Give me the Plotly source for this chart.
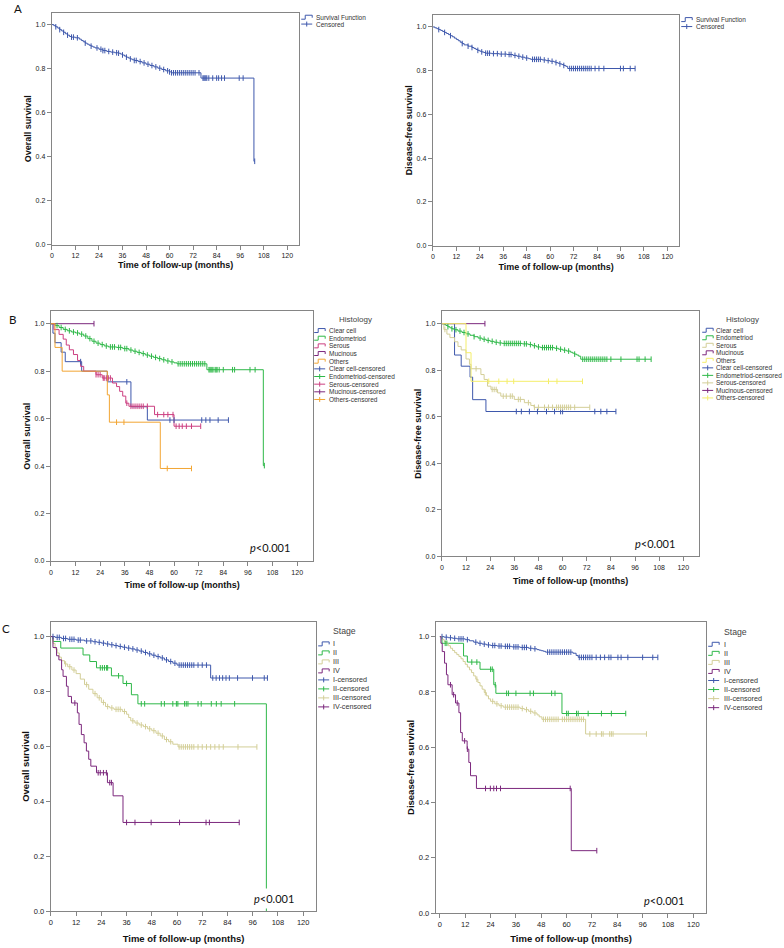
import numpy as np
import plotly.graph_objects as go

# ---------------- data ----------------
TIME_TICKS = [0, 12, 24, 36, 48, 60, 72, 84, 96, 108, 120]
SURV_TICKS = [0.0, 0.2, 0.4, 0.6, 0.8, 1.0]
SURV_TICK_TEXT = ["0.0", "0.2", "0.4", "0.6", "0.8", "1.0"]
P_TEXT = "<i>p</i>&lt;0.001"

# Panel A: whole cohort, overall survival
os_all_t = [0, 1, 2, 3, 4, 5, 6, 7, 8, 9, 10, 12, 14, 15, 16, 17, 18, 19, 20, 21, 22, 24, 26, 28, 30, 32, 34, 35,
            36, 37, 38, 39, 40, 41, 42, 44, 46, 48, 50, 52, 54, 56, 58, 60, 61, 76, 103]
os_all_s = [1.0, 0.995, 0.99, 0.984, 0.977, 0.971, 0.965, 0.958, 0.952, 0.946, 0.943, 0.94, 0.934, 0.928, 0.922,
            0.916, 0.911, 0.906, 0.902, 0.898, 0.894, 0.888, 0.882, 0.878, 0.875, 0.872, 0.87, 0.866, 0.862, 0.857,
            0.852, 0.848, 0.844, 0.84, 0.837, 0.832, 0.826, 0.82, 0.814, 0.808, 0.802, 0.796, 0.79, 0.785, 0.781,
            0.757, 0.379]
os_all_c = [2, 4, 6, 8, 10, 11, 13, 17, 20, 23, 25, 26, 27, 29, 31, 33, 34, 36, 38, 40, 42, 43, 45, 47, 49, 51, 53,
            55, 57, 59, 60, 61, 62, 63, 64, 65, 66, 67, 68, 69, 70, 71, 72, 73, 75, 77, 77.5, 78, 78.5, 79, 80, 82,
            84, 85, 86.5, 88, 95.5, 97.5, 103.4]

# Panel A: whole cohort, disease-free survival
dfs_all_t = [0, 1, 2, 3, 4, 5, 6, 7, 8, 9, 10, 11, 12, 13, 14, 15, 16, 18, 20, 21, 22, 23, 24, 25, 26, 27, 30, 34,
             38, 41, 43, 45, 47, 49, 50, 56, 58, 60, 62, 63, 64, 65, 66, 67, 68, 69]
dfs_all_s = [1.0, 0.996, 0.992, 0.988, 0.984, 0.979, 0.975, 0.97, 0.965, 0.96, 0.955, 0.949, 0.943, 0.937, 0.93,
             0.924, 0.918, 0.912, 0.906, 0.902, 0.897, 0.893, 0.889, 0.886, 0.883, 0.88, 0.878, 0.876, 0.874, 0.87,
             0.866, 0.862, 0.858, 0.855, 0.852, 0.849, 0.846, 0.843, 0.84, 0.837, 0.834, 0.831, 0.828, 0.824, 0.82,
             0.81]
dfs_all_c = [3, 6, 9, 15, 18, 20, 23, 25, 27, 28, 29, 31, 33, 35, 37, 39, 40, 42, 44, 46, 48, 51, 52, 53, 54, 55, 57,
             59, 61, 63, 65, 67, 70, 71, 72, 73, 74, 75, 76, 77, 78, 79, 80, 81, 83, 85, 87.5, 96, 97.5, 101, 103.5]

# Panel B: histology, overall survival
os_clear_t = [0, 1, 2, 5, 7, 15, 27.5, 39, 47]
os_clear_s = [1.0, 0.96, 0.92, 0.88, 0.84, 0.80, 0.755, 0.65, 0.594]
os_clear_c = [14.5, 37, 58, 60, 73.5, 75.5, 77.5, 81.5, 86.5]

os_endo_t = [0, 2, 4, 6, 8, 10, 12, 14, 16, 18, 20, 22, 24, 26, 28, 32, 35, 38, 40, 42, 44, 46, 48, 50, 52, 54, 56,
             58, 60, 61.5, 76, 103.5]
os_endo_s = [1.0, 0.992, 0.984, 0.976, 0.97, 0.965, 0.961, 0.956, 0.948, 0.937, 0.926, 0.918, 0.912, 0.906, 0.902,
             0.9, 0.895, 0.889, 0.884, 0.879, 0.874, 0.868, 0.863, 0.858, 0.853, 0.848, 0.843, 0.839, 0.835, 0.831,
             0.806, 0.402]
os_endo_c = [3, 5, 7, 9, 11, 13, 15, 17, 19, 21, 23, 25, 27, 29, 30, 31, 33, 34, 36, 37, 39, 41, 43, 45, 47, 49, 51,
             53, 55, 57, 59, 62, 63, 64, 65, 66, 67, 68, 69, 70, 71, 72, 73, 74, 75, 77, 77.5, 78, 78.5, 79, 80, 80.5,
             81, 82, 84, 88.5, 89.5, 97, 99.5, 104]

os_serous_t = [0, 1.5, 4, 6, 7.5, 9, 11, 13, 14.5, 16, 22, 25, 30, 32, 33.5, 35, 36.5, 38, 50.5, 60]
os_serous_s = [1.0, 0.975, 0.955, 0.935, 0.91, 0.89, 0.87, 0.845, 0.82, 0.80, 0.785, 0.771, 0.75, 0.735, 0.715,
               0.695, 0.665, 0.652, 0.617, 0.568]
os_serous_c = [22, 23, 24, 25.5, 26, 27, 28, 29, 37, 39, 40, 41, 42, 43, 44, 45, 47, 52, 55, 57, 59.5, 61, 62.5, 64,
               66, 68.5, 73]

os_muc_t = [0]
os_muc_s = [1.0]
os_muc_c = [21]

os_other_t = [0, 2, 5.5, 27.5, 28.5, 53.3]
os_other_s = [1.0, 0.90, 0.80, 0.70, 0.585, 0.39]
os_other_c = [32, 35.6, 56.7, 68.5]

# Panel B: histology, disease-free survival
dfs_clear_t = [0, 6.3, 9.6, 14, 15.3, 21.9]
dfs_clear_s = [1.0, 0.865, 0.817, 0.77, 0.673, 0.622]
dfs_clear_c = [37, 39.5, 43.5, 47.5, 52, 56, 59, 60, 76, 79, 82, 86.5]

dfs_endo_t = [0, 1, 2, 3, 4, 5, 6, 8, 10, 12, 14, 16, 18, 20, 22, 24, 26, 28, 30, 40, 43, 45, 47, 49, 56, 58, 60,
              62, 64, 65, 66, 67, 68, 69]
dfs_endo_s = [1.0, 0.996, 0.992, 0.987, 0.982, 0.978, 0.974, 0.968, 0.962, 0.956, 0.95, 0.944, 0.938, 0.933, 0.928,
              0.924, 0.92, 0.917, 0.915, 0.913, 0.91, 0.905, 0.9, 0.897, 0.894, 0.89, 0.886, 0.882, 0.877, 0.873,
              0.869, 0.865, 0.86, 0.847]
dfs_endo_c = [3, 5, 7, 9, 11, 13, 16, 19, 21, 23, 25, 27, 29, 31, 32, 33, 34, 35, 36, 37, 38, 39, 41, 42, 44, 46, 48,
              50, 51, 52, 53, 54, 55, 57, 59, 61, 63, 66, 70, 71, 72, 73, 74, 75, 76, 77, 78, 79, 80, 81, 82, 84, 89,
              97, 98, 101, 104]

dfs_serous_t = [0, 1, 2.5, 4, 6.3, 8, 9.6, 12, 13.7, 14.5, 19.4, 21, 22.7, 24.4, 27.7, 29.3, 36, 41, 44.2, 45.8]
dfs_serous_s = [1.0, 0.975, 0.955, 0.94, 0.922, 0.902, 0.887, 0.848, 0.825, 0.806, 0.781, 0.76, 0.731, 0.717, 0.702,
                0.688, 0.674, 0.66, 0.648, 0.64]
dfs_serous_c = [1.5, 17, 25, 26, 27, 30.5, 32, 34, 35, 38, 39, 43, 46, 48, 51, 53, 55, 57, 58, 59, 60, 61, 62, 63,
                64, 66, 73.5]

dfs_muc_t = [0]
dfs_muc_s = [1.0]
dfs_muc_c = [21.4]

dfs_other_t = [0, 12, 14.5]
dfs_other_s = [1.0, 0.875, 0.752]
dfs_other_c = [23.3, 28.3, 32.4, 35.7, 53, 57.2, 69.9]

# Panel C: stage, overall survival
os_s1_t = [0, 2, 5, 8, 12, 16, 20, 22, 24, 26, 28, 30, 32, 34, 36, 38, 40, 42, 44, 46, 48, 50, 52, 54, 56, 58, 60,
           76]
os_s1_s = [1.0, 0.997, 0.993, 0.99, 0.987, 0.984, 0.981, 0.979, 0.976, 0.973, 0.97, 0.967, 0.964, 0.961, 0.958,
           0.955, 0.951, 0.947, 0.942, 0.937, 0.932, 0.927, 0.922, 0.915, 0.909, 0.903, 0.896, 0.849]
os_s1_c = [1, 3, 4, 6, 7, 9, 10, 11, 13, 14, 17, 19, 21, 23, 25, 27, 29, 31, 33, 35, 37, 39, 41, 43, 45, 47, 49, 51,
           53, 55, 57, 59, 61, 62, 63, 64, 65, 66, 67, 68, 70, 72, 74, 77, 78.6, 80.2, 81.7, 83.3, 84.9, 88.8, 95.9,
           101.5, 103]

os_s2_t = [0, 1, 4.7, 15.3, 18.5, 21.7, 28.8, 34.3, 38.3, 41.4, 102.5]
os_s2_s = [1.0, 0.982, 0.958, 0.933, 0.909, 0.886, 0.857, 0.829, 0.788, 0.755, 0.0]
os_s2_c = [23.5, 24.5, 25.5, 26.5, 27, 32.2, 36, 43, 44.6, 52.5, 54, 58, 59.7, 60.4, 63.6, 64.4, 65.2, 70, 71.5,
           76.3, 78.7, 81, 87.4]

os_s3_t = [0, 1, 2, 3, 4, 5, 6.5, 8, 10, 12, 14, 16, 18, 20, 22, 24, 26, 28, 30, 34, 36, 37, 38, 40, 42, 44, 46, 48,
           50, 52, 54, 56, 58, 60.5]
os_s3_s = [1.0, 0.975, 0.955, 0.94, 0.925, 0.912, 0.9, 0.89, 0.878, 0.865, 0.845, 0.825, 0.808, 0.792, 0.777, 0.76,
           0.745, 0.74, 0.735, 0.727, 0.717, 0.705, 0.693, 0.685, 0.678, 0.672, 0.664, 0.657, 0.648, 0.638, 0.625,
           0.617, 0.608, 0.598]
os_s3_c = [7, 9, 11, 17, 21, 23, 25, 27, 29, 31, 32, 33, 35, 39, 41, 43, 45, 47, 49, 51, 53, 55, 57, 61, 62, 63, 64,
           65, 66, 67, 68, 70, 72, 74, 76, 78, 80, 82, 89, 98]

os_s4_t = [0, 1, 2.7, 3.8, 5.1, 5.8, 7.4, 8.2, 9.8, 12.6, 13.4, 14.5, 15.8, 16.9, 18, 19, 21.7, 26.9, 29.6, 34.3]
os_s4_s = [1.0, 0.96, 0.93, 0.915, 0.879, 0.855, 0.819, 0.782, 0.758, 0.722, 0.68, 0.643, 0.613, 0.583, 0.553,
           0.528, 0.504, 0.468, 0.42, 0.323]
os_s4_c = [11.4, 22.5, 23.5, 25, 26.4, 28, 28.8, 36, 40, 47.7, 61.2, 73.8, 75.4, 89.6]

# Panel C: stage, disease-free survival
dfs_s1_t = [0, 2, 4, 6, 8, 12, 14, 16, 18, 20, 22, 24, 27, 30, 34, 38, 42, 44, 46, 47, 48, 49, 50, 63, 64.5, 65.5]
dfs_s1_s = [1.0, 0.998, 0.996, 0.994, 0.992, 0.989, 0.985, 0.98, 0.976, 0.973, 0.97, 0.968, 0.966, 0.965, 0.963,
            0.961, 0.958, 0.956, 0.953, 0.951, 0.949, 0.947, 0.944, 0.94, 0.932, 0.925]
dfs_s1_c = [1, 3, 5, 7, 9, 10, 11, 13, 17, 19, 21, 23, 25, 26, 28, 29, 31, 32, 33, 35, 36, 37, 39, 40, 41, 43, 45,
            51, 52, 53, 54, 55, 56, 57, 58, 59, 60, 61, 62, 66, 67, 68, 69, 70, 71, 72, 74, 76, 78, 80, 81, 84.3,
            85.8, 89, 96, 100.8, 103.2]

dfs_s2_t = [0, 1, 11.2, 13, 19, 25.5, 26.5, 57.8]
dfs_s2_s = [1.0, 0.976, 0.93, 0.908, 0.882, 0.826, 0.795, 0.722]
dfs_s2_c = [2.5, 3.3, 15.1, 17.5, 24, 24.8, 26.2, 31.6, 32.5, 36, 42.7, 44.3, 52.9, 54.5, 60, 60.8, 64.7, 65.5,
            70.2, 76.5, 81.2, 88]

dfs_s3_t = [0, 1, 2, 3, 4, 5, 6, 7, 8, 9, 10, 11, 12, 13, 14, 15, 16, 17, 18, 19, 20, 21, 22, 23, 24, 26, 28, 30, 38,
            40, 42, 44, 46, 47, 48.3, 69]
dfs_s3_s = [1.0, 0.99, 0.982, 0.975, 0.967, 0.958, 0.95, 0.942, 0.935, 0.928, 0.92, 0.91, 0.9, 0.89, 0.88, 0.87,
            0.858, 0.846, 0.834, 0.822, 0.81, 0.798, 0.786, 0.775, 0.766, 0.757, 0.75, 0.745, 0.74, 0.736, 0.73,
            0.724, 0.717, 0.71, 0.701, 0.648]
dfs_s3_c = [17.5, 21.5, 25, 27, 29, 31, 32, 33, 34, 35, 36, 37, 39, 41, 43, 45, 49, 50, 51, 52, 53, 54, 55, 56, 58,
            59, 60, 61, 62, 63, 64, 65, 66, 67, 68, 71, 74, 76.5, 77.3, 80.4, 81.2, 82, 97.8]

dfs_s4_t = [0, 0.5, 1.1, 2.2, 3.1, 3.8, 5.8, 7.4, 9, 9.8, 10.6, 12.9, 13.7, 14.5, 17.3, 62.2]
dfs_s4_s = [1.0, 0.976, 0.946, 0.904, 0.862, 0.826, 0.79, 0.76, 0.725, 0.653, 0.623, 0.593, 0.545, 0.497, 0.451,
            0.226]
dfs_s4_c = [5, 6.5, 8.2, 11.7, 13, 21.6, 23.9, 25.5, 26.8, 28.7, 61.7, 74.3]

HIST_NAMES = ["Clear cell", "Endometriod", "Serous", "Mucinous", "Others"]
STAGE_NAMES = ["I", "II", "III", "IV"]

# ---------------- styling ----------------
W, H = 784, 948
BLUE = "#3E58AC"
GREEN = "#2EB848"
BEIGE = "#D3CE97"
PURPLE = "#7C287D"
YELLOW = "#F4EE6A"
PINK = "#CC3F80"
ORANGE = "#F2A533"
FRAME = "#858585"
TXT = "#222222"
AX_FONT = "Liberation Sans, Arial, sans-serif"
CAL_FONT = "Lato, Carlito, sans-serif"

panels = [
    dict(px=(50, 298), py=(13, 246), xr=(0, 126.1), yr=(0, 1.053), ytitle="Overall survival",
         series=[("Survival Function", BLUE, os_all_t, os_all_s, os_all_c)], names=None,
         leg=dict(icon_x=300, text_x=313, y0=17.3, dy=6.9, size=6.5, title=None),
         tick=7, tfont=9, p=None, xs=3),
    dict(px=(432, 679), py=(15, 247), xr=(0, 126.1), yr=(0, 1.055), ytitle="Disease-free survival",
         series=[("Survival Function", BLUE, dfs_all_t, dfs_all_s, dfs_all_c)], names=None,
         leg=dict(icon_x=681, text_x=694, y0=19.7, dy=7.0, size=6.5, title=None),
         tick=7, tfont=9, p=None, xs=4),
    dict(px=(49, 312), py=(313, 564), xr=(0, 127.8), yr=(0, 1.052), ytitle="Overall survival",
         series=list(zip(HIST_NAMES, [BLUE, GREEN, PINK, PURPLE, ORANGE],
                         [os_clear_t, os_endo_t, os_serous_t, os_muc_t, os_other_t],
                         [os_clear_s, os_endo_s, os_serous_s, os_muc_s, os_other_s],
                         [os_clear_c, os_endo_c, os_serous_c, os_muc_c, os_other_c])),
         names=HIST_NAMES,
         leg=dict(icon_x=313, text_x=326, y0=332.3, dy=7.7, size=6.5, title="Histology", title_x=354, title_y=321),
         tick=7, tfont=9, p=(269, 550), xs=7),
    dict(px=(441, 699), py=(313, 559), xr=(0, 127.9), yr=(0, 1.053), ytitle="Disease-free survival",
         series=list(zip(HIST_NAMES, [BLUE, GREEN, BEIGE, PURPLE, YELLOW],
                         [dfs_clear_t, dfs_endo_t, dfs_serous_t, dfs_muc_t, dfs_other_t],
                         [dfs_clear_s, dfs_endo_s, dfs_serous_s, dfs_muc_s, dfs_other_s],
                         [dfs_clear_c, dfs_endo_c, dfs_serous_c, dfs_muc_c, dfs_other_c])),
         names=HIST_NAMES,
         leg=dict(icon_x=702, text_x=714, y0=332, dy=7.56, size=6.5, title="Histology", title_x=742, title_y=320.7),
         tick=7, tfont=9, p=(655, 546), xs=8),
    dict(px=(49, 315), py=(625, 916), xr=(0, 126.2), yr=(0, 1.054), ytitle="Overall survival",
         series=list(zip(STAGE_NAMES, [BLUE, GREEN, BEIGE, PURPLE],
                         [os_s1_t, os_s2_t, os_s3_t, os_s4_t],
                         [os_s1_s, os_s2_s, os_s3_s, os_s4_s],
                         [os_s1_c, os_s2_c, os_s3_c, os_s4_c])),
         names=STAGE_NAMES,
         leg=dict(icon_x=317, text_x=330, y0=647.3, dy=9.05, size=7.2, title="Stage", title_x=343, title_y=634.7),
         tick=7.5, tfont=9.5, p=(273, 903), xs=9),
    dict(px=(435, 706), py=(625, 918), xr=(-1.9, 126.1), yr=(0, 1.054), ytitle="Disease-free survival",
         series=list(zip(STAGE_NAMES, [BLUE, GREEN, BEIGE, PURPLE],
                         [dfs_s1_t, dfs_s2_t, dfs_s3_t, dfs_s4_t],
                         [dfs_s1_s, dfs_s2_s, dfs_s3_s, dfs_s4_s],
                         [dfs_s1_c, dfs_s2_c, dfs_s3_c, dfs_s4_c])),
         names=STAGE_NAMES,
         leg=dict(icon_x=708, text_x=722, y0=647.7, dy=9.1, size=7.2, title="Stage", title_x=735, title_y=635),
         tick=7.5, tfont=9.5, p=(664, 905), xs=7),
]


def fx(px):
    return px / W


def fy(py):
    return 1 - py / H


fig = go.Figure()
layout = dict(width=W, height=H, margin=dict(l=0, r=0, t=0, b=0), paper_bgcolor="white",
              plot_bgcolor="white", showlegend=False)
shapes, annots = [], []

for i, p in enumerate(panels):
    k = "" if i == 0 else str(i + 1)
    xa, ya = "x" + k, "y" + k
    for name, col, t, s, c in p["series"]:
        t = np.asarray(t, float)
        s = np.asarray(s, float)
        c = np.asarray(c, float)
        xs, ys = list(t), list(s)
        if len(c) and c.max() > t[-1]:
            xs.append(c.max())
            ys.append(s[-1])
        fig.add_trace(go.Scatter(x=xs, y=ys, mode="lines", line=dict(color=col, width=1, shape="hv"),
                                 xaxis=xa, yaxis=ya, hoverinfo="skip"))
    for name, col, t, s, c in p["series"]:
        t = np.asarray(t, float)
        s = np.asarray(s, float)
        c = np.asarray(c, float)
        idx = np.searchsorted(t, c, side="right") - 1
        fig.add_trace(go.Scatter(x=c, y=s[idx], mode="markers",
                                 marker=dict(symbol="line-ns", size=4, line=dict(color=col, width=1)),
                                 xaxis=xa, yaxis=ya, hoverinfo="skip"))
    layout["xaxis" + k] = dict(domain=[fx(p["px"][0]), fx(p["px"][1])], anchor=ya, range=list(p["xr"]),
                               tickvals=TIME_TICKS, ticks="outside", ticklen=4, tickcolor=FRAME,
                               showline=True, linecolor=FRAME, linewidth=1.3, mirror=True,
                               showgrid=False, zeroline=False,
                               tickfont=dict(family=AX_FONT, size=p["tick"], color=TXT),
                               title=dict(text="<b>Time of follow-up (months)</b>", standoff=p["xs"],
                                          font=dict(family=AX_FONT, size=p["tfont"], color="#111")))
    layout["yaxis" + k] = dict(domain=[fy(p["py"][1]), fy(p["py"][0])], anchor=xa, range=list(p["yr"]),
                               tickvals=SURV_TICKS, ticktext=SURV_TICK_TEXT, ticks="outside", ticklen=4,
                               tickcolor=FRAME, showline=True, linecolor=FRAME, linewidth=1.3, mirror=True,
                               showgrid=False, zeroline=False,
                               tickfont=dict(family=AX_FONT, size=p["tick"], color=TXT),
                               title=dict(text="<b>" + p["ytitle"] + "</b>", standoff=2,
                                          font=dict(family=AX_FONT, size=p["tfont"], color="#111")))

    # legend (SPSS style)
    lg = p["leg"]
    if p["names"] is None:
        entries = [("Survival Function", BLUE, "step"), ("Censored", BLUE, "cens")]
    else:
        cols = [sr[1] for sr in p["series"]]
        entries = [(n, c, "step") for n, c in zip(p["names"], cols)] + \
                  [(n + "-censored", c, "cens") for n, c in zip(p["names"], cols)]
    if lg["title"]:
        annots.append(dict(text=lg["title"], x=fx(lg["title_x"]), y=fy(lg["title_y"]), xref="paper",
                           yref="paper", showarrow=False, xanchor="center", yanchor="middle",
                           font=dict(family=AX_FONT, size=lg["size"] + 1.5, color="#444")))
    for j, (txt, col, kind) in enumerate(entries):
        yy = lg["y0"] + j * lg["dy"]
        x0 = lg["icon_x"]
        if kind == "step":
            path = "M {:.5f},{:.5f} L {:.5f},{:.5f} L {:.5f},{:.5f} L {:.5f},{:.5f} L {:.5f},{:.5f}".format(
                fx(x0), fy(yy + 2), fx(x0 + 4), fy(yy + 2), fx(x0 + 4), fy(yy - 2),
                fx(x0 + 11), fy(yy - 2), fx(x0 + 11), fy(yy + 0.5))
            shapes.append(dict(type="path", path=path, xref="paper", yref="paper",
                               line=dict(color=col, width=1)))
        else:
            shapes.append(dict(type="line", x0=fx(x0), x1=fx(x0 + 11), y0=fy(yy), y1=fy(yy), xref="paper",
                               yref="paper", line=dict(color=col, width=1)))
            shapes.append(dict(type="line", x0=fx(x0 + 5.5), x1=fx(x0 + 5.5), y0=fy(yy - 2.5), y1=fy(yy + 2.5),
                               xref="paper", yref="paper", line=dict(color=col, width=1)))
        annots.append(dict(text=txt, x=fx(lg["text_x"]), y=fy(yy), xref="paper", yref="paper", showarrow=False,
                           xanchor="left", yanchor="middle",
                           font=dict(family=AX_FONT, size=lg["size"], color="#333")))
    if p["p"]:
        annots.append(dict(text=P_TEXT, x=fx(p["p"][0]), y=fy(p["p"][1]), xref="paper", yref="paper",
                           showarrow=False, xanchor="center", yanchor="middle", bgcolor="white", borderpad=3,
                           font=dict(family=CAL_FONT, size=11, color="#111")))

for letter, lx, ly in [("A", 16, 0), ("B", 10.5, 312.5), ("C", 4, 623)]:
    annots.append(dict(text=letter, x=fx(lx), y=fy(ly), xref="paper", yref="paper", showarrow=False,
                       xanchor="center", yanchor="top", font=dict(family=CAL_FONT, size=11.5, color="#111")))

layout["shapes"] = shapes
layout["annotations"] = annots
fig.update_layout(**layout)
fig.write_html("out.html", config={"displayModeBar": False},
               post_script="document.body.style.margin='0px';document.body.style.padding='0px';")
